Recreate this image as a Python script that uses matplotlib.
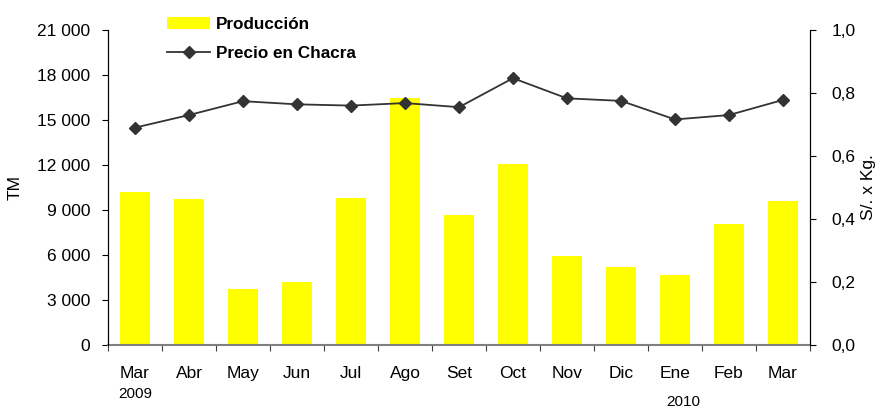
import matplotlib
matplotlib.use("Agg")
import matplotlib.pyplot as plt
import numpy as np
from matplotlib.lines import Line2D
from matplotlib.patches import Patch

plt.rcParams['font.family'] = ['Liberation Sans', 'DejaVu Sans']

months = ["Mar", "Abr", "May", "Jun", "Jul", "Ago", "Set", "Oct", "Nov", "Dic", "Ene", "Feb", "Mar"]
produccion = [10200, 9730, 3730, 4180, 9820, 16490, 8670, 12070, 5930, 5180, 4670, 8070, 9600]
precio = [0.690, 0.730, 0.774, 0.764, 0.760, 0.768, 0.755, 0.847, 0.783, 0.775, 0.716, 0.730, 0.778]
left_ticks = [0, 3000, 6000, 9000, 12000, 15000, 18000, 21000]
left_labels = ["0", "3 000", "6 000", "9 000", "12 000", "15 000", "18 000", "21 000"]
right_ticks = [0.0, 0.2, 0.4, 0.6, 0.8, 1.0]
right_labels = ["0,0", "0,2", "0,4", "0,6", "0,8", "1,0"]

FS = 12.5

fig = plt.figure(figsize=(8.83, 4.08), dpi=100)
ax = fig.add_axes([0.1223, 0.1544, 0.7950, 0.7721])
x = np.arange(len(months))
ax.bar(x, produccion, width=0.57, color="#FFFF00", zorder=2)
ax.set_xlim(-0.5, len(months) - 0.5)
ax.set_ylim(0, 21000)
ax.set_yticks(left_ticks)
ax.set_yticklabels(left_labels, fontsize=FS)
ax.set_ylabel("TM", fontsize=FS, labelpad=10)
ax.set_xticks(np.arange(len(months) + 1) - 0.5)
ax.set_xticklabels([])
ax.set_xticks(x, minor=True)
ax.set_xticklabels(months, minor=True, fontsize=FS)
ax.tick_params(axis='x', which='minor', length=0, pad=15)
ax.tick_params(axis='x', which='major', length=4.5, color="#404040")
ax.tick_params(axis='y', length=4.3, pad=8.6)
ax.spines['top'].set_visible(False)
ax.spines['bottom'].set_color("#808080")
ax.spines['bottom'].set_linewidth(1.5)

ax2 = ax.twinx()
ax2.plot(x, precio, color="#333333", marker="D", markersize=6, linewidth=1.3, zorder=3)
ax2.set_ylim(0, 1.0)
ax2.set_yticks(right_ticks)
ax2.set_yticklabels(right_labels, fontsize=FS)
ax2.set_ylabel("S/. x Kg.", fontsize=FS, rotation=90, labelpad=4)
ax2.tick_params(axis='y', length=4.3, pad=11)
ax2.spines['top'].set_visible(False)
ax2.spines['bottom'].set_visible(False)

ax.text(0, -0.155, "2009", transform=ax.get_xaxis_transform(), ha="center", va="center", fontsize=11)
ax.text(10.15, -0.18, "2010", transform=ax.get_xaxis_transform(), ha="center", va="center", fontsize=11)

handles = [Patch(facecolor="#FFFF00", edgecolor="none"),
           Line2D([0], [0], color="#333333", marker="D", markersize=6, linewidth=1.3)]
leg = fig.legend(handles, ["Producción", "Precio en Chacra"], loc="upper left",
                 bbox_to_anchor=(0.172, 0.997), frameon=False,
                 prop={'weight': 'bold', 'size': 12.3}, handlelength=2.5,
                 labelspacing=0.85, handletextpad=0.35)

fig.savefig("out.png", dpi=100)
